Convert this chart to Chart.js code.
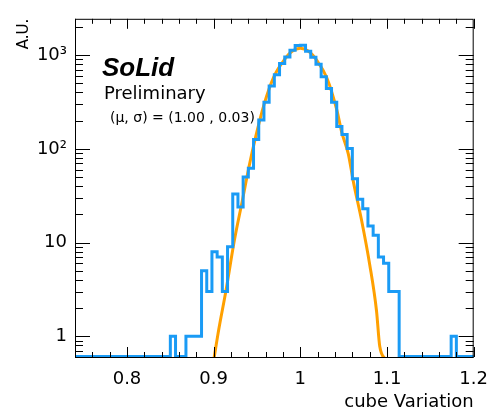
<!DOCTYPE html>
<html>
<head>
<meta charset="utf-8">
<script src="https://cdn.jsdelivr.net/npm/chart.js@4.4.0/dist/chart.umd.min.js"></script>
<style>
  html, body { margin: 0; padding: 0; background: #fff; }
  #wrap { width: 500px; height: 411px; }
</style>
</head>
<body>
<div id="wrap"><canvas id="c" width="500" height="411"></canvas></div>
<script>
// histogram: bins of 0.006 starting at 0.70, visible bins 6..83
const BIN_START = 0.7;
const BIN_WIDTH = 0.006;
const FIRST_BIN = 6;
const COUNTS = [
  0, 0, 0, 0, 0, 0, 0, 0, 0, 0, 0, 0, 0, 0, 0, 0, 0, 0, 0,
  1, 0, 0, 1, 1, 1,
  5, 3, 8, 7, 3, 9, 33, 24, 50, 62, 126, 203, 314, 470, 618, 817, 958, 1130,
  1270, 1275,
  1100, 950, 800, 590, 440, 314, 173, 142, 101, 48, 29, 23, 15, 12, 7, 6, 3, 3,
  0, 0, 0, 0, 0, 0, 0, 0, 0, 0,
  1, 0, 0, 0, 0
];

// fitted gaussian
const FIT_X = [0.900, 0.906, 0.914, 0.924, 0.933, 0.941, 0.9485, 0.958, 0.9695, 0.981, 0.9905, 1.000,
  1.0095, 1.019, 1.0305, 1.042, 1.0478, 1.0554, 1.0611, 1.0707, 1.0802, 1.0879, 1.0916, 1.0995];
const FIT_Y = [0.55, 1.2, 3.0, 10.7, 27.8, 66, 135, 295, 590, 880, 1100, 1185,
  1100, 880, 575, 262, 150, 88, 45, 17.2, 5.7, 1.86, 0.78, 0.55];

const X_MIN = 0.74, X_MAX = 1.2;
const Y_MIN = 0.606, Y_MAX = 2447;
const X_TICKS = [0.8, 0.9, 1, 1.1, 1.2];
const X_TICK_LABELS = ["0.8", "0.9", "1", "1.1", "1.2"];
const Y_TICKS = [1, 10, 100, 1000];
const Y_TICK_LABELS = ["1", "10", "10\u00b2", "10\u00b3"];

const BLUE = "#1a9bf5";
const ORANGE = "#ffa000";
const FONT = "'DejaVu Sans', sans-serif";

const histPoints = COUNTS.map((n, i) => ({
  x: BIN_START + (FIRST_BIN + i) * BIN_WIDTH,
  y: Math.max(n, Y_MIN),
}));
histPoints.push({
  x: BIN_START + (FIRST_BIN + COUNTS.length) * BIN_WIDTH,
  y: Math.max(COUNTS[COUNTS.length - 1], Y_MIN),
});
const fitPoints = FIT_X.map((x, i) => ({ x, y: FIT_Y[i] }));

// ROOT style frame with inward ticks on all four sides
const rootFrame = {
  id: "rootFrame",
  afterDatasetsDraw(chart) {
    const { ctx, chartArea: a, scales } = chart;
    const x = scales.x, y = scales.y;
    ctx.save();
    ctx.strokeStyle = "#000";
    ctx.lineWidth = 1;
    ctx.beginPath();
    for (let i = 37; i <= 60; i++) {
      const px = Math.round(x.getPixelForValue(i / 50)) + 0.5;
      const len = i % 5 === 0 ? 10 : 5;
      ctx.moveTo(px, a.bottom); ctx.lineTo(px, a.bottom - len);
      ctx.moveTo(px, a.top); ctx.lineTo(px, a.top + len);
    }
    for (let d = -1; d <= 3; d++) {
      for (let m = 1; m <= 9; m++) {
        const v = m * Math.pow(10, d);
        if (v < Y_MIN || v > Y_MAX) continue;
        const py = Math.round(y.getPixelForValue(v)) + 0.5;
        const len = m === 1 ? 15 : 8;
        ctx.moveTo(a.left, py); ctx.lineTo(a.left + len, py);
        ctx.moveTo(a.right, py); ctx.lineTo(a.right - len, py);
      }
    }
    ctx.stroke();
    ctx.strokeRect(a.left + 0.5, a.top + 0.5, a.right - a.left - 1, a.bottom - a.top);
    ctx.restore();
  },
  afterDraw(chart) {
    const ctx = chart.ctx;
    ctx.save();
    ctx.fillStyle = "#000";
    ctx.textBaseline = "alphabetic";
    ctx.font = "italic bold 26px 'Liberation Sans', Arial, sans-serif";
    ctx.fillText("SoLid", 102, 76);
    ctx.font = "18px " + FONT;
    ctx.fillText("Preliminary", 104, 99);
    ctx.font = "14px " + FONT;
    ctx.fillText("(\u03bc, \u03c3) = (1.00 , 0.03)", 110, 122);
    ctx.restore();
  },
};

new Chart(document.getElementById("c"), {
  type: "line",
  data: {
    datasets: [
      {
        data: histPoints,
        borderColor: BLUE,
        borderWidth: 3,
        stepped: true,
        pointRadius: 0,
        fill: false,
        clip: { left: 0, right: 0, top: 0, bottom: 2 },
      },
      {
        data: fitPoints,
        borderColor: ORANGE,
        borderWidth: 3,
        cubicInterpolationMode: "monotone",
        pointRadius: 0,
        fill: false,
        clip: 0,
      },
    ],
  },
  options: {
    responsive: false,
    animation: false,
    devicePixelRatio: 1,
    layout: { padding: { top: 9, right: 21, left: 0, bottom: 0 } },
    plugins: { legend: { display: false }, tooltip: { enabled: false } },
    scales: {
      x: {
        type: "linear",
        min: X_MIN,
        max: X_MAX,
        grid: { display: false, drawTicks: false },
        border: { display: false },
        afterBuildTicks: (s) => { s.ticks = X_TICKS.map((v) => ({ value: v })); },
        afterFit: (s) => { s.height = 54; },
        ticks: {
          callback: (v, i) => X_TICK_LABELS[i],
          color: "#000",
          font: { family: FONT, size: 18 },
          padding: 12,
          maxRotation: 0,
          autoSkip: false,
        },
        title: {
          display: true,
          text: "cube Variation",
          align: "end",
          color: "#000",
          font: { family: FONT, size: 18, lineHeight: 1 },
          padding: { top: 0, bottom: 0 },
        },
      },
      y: {
        type: "logarithmic",
        min: Y_MIN,
        max: Y_MAX,
        grid: { display: false, drawTicks: false },
        border: { display: false },
        afterBuildTicks: (s) => { s.ticks = Y_TICKS.map((v) => ({ value: v })); },
        afterFit: (s) => { s.width = 75; },
        ticks: {
          callback: (v, i) => Y_TICK_LABELS[i],
          color: "#000",
          font: { family: FONT, size: 18 },
          padding: 8,
          autoSkip: false,
        },
        title: {
          display: true,
          text: "A.U.",
          align: "end",
          color: "#000",
          font: { family: FONT, size: 15, lineHeight: 1 },
          padding: { top: 17, bottom: 0 },
        },
      },
    },
  },
  plugins: [rootFrame],
});
</script>
</body>
</html>
